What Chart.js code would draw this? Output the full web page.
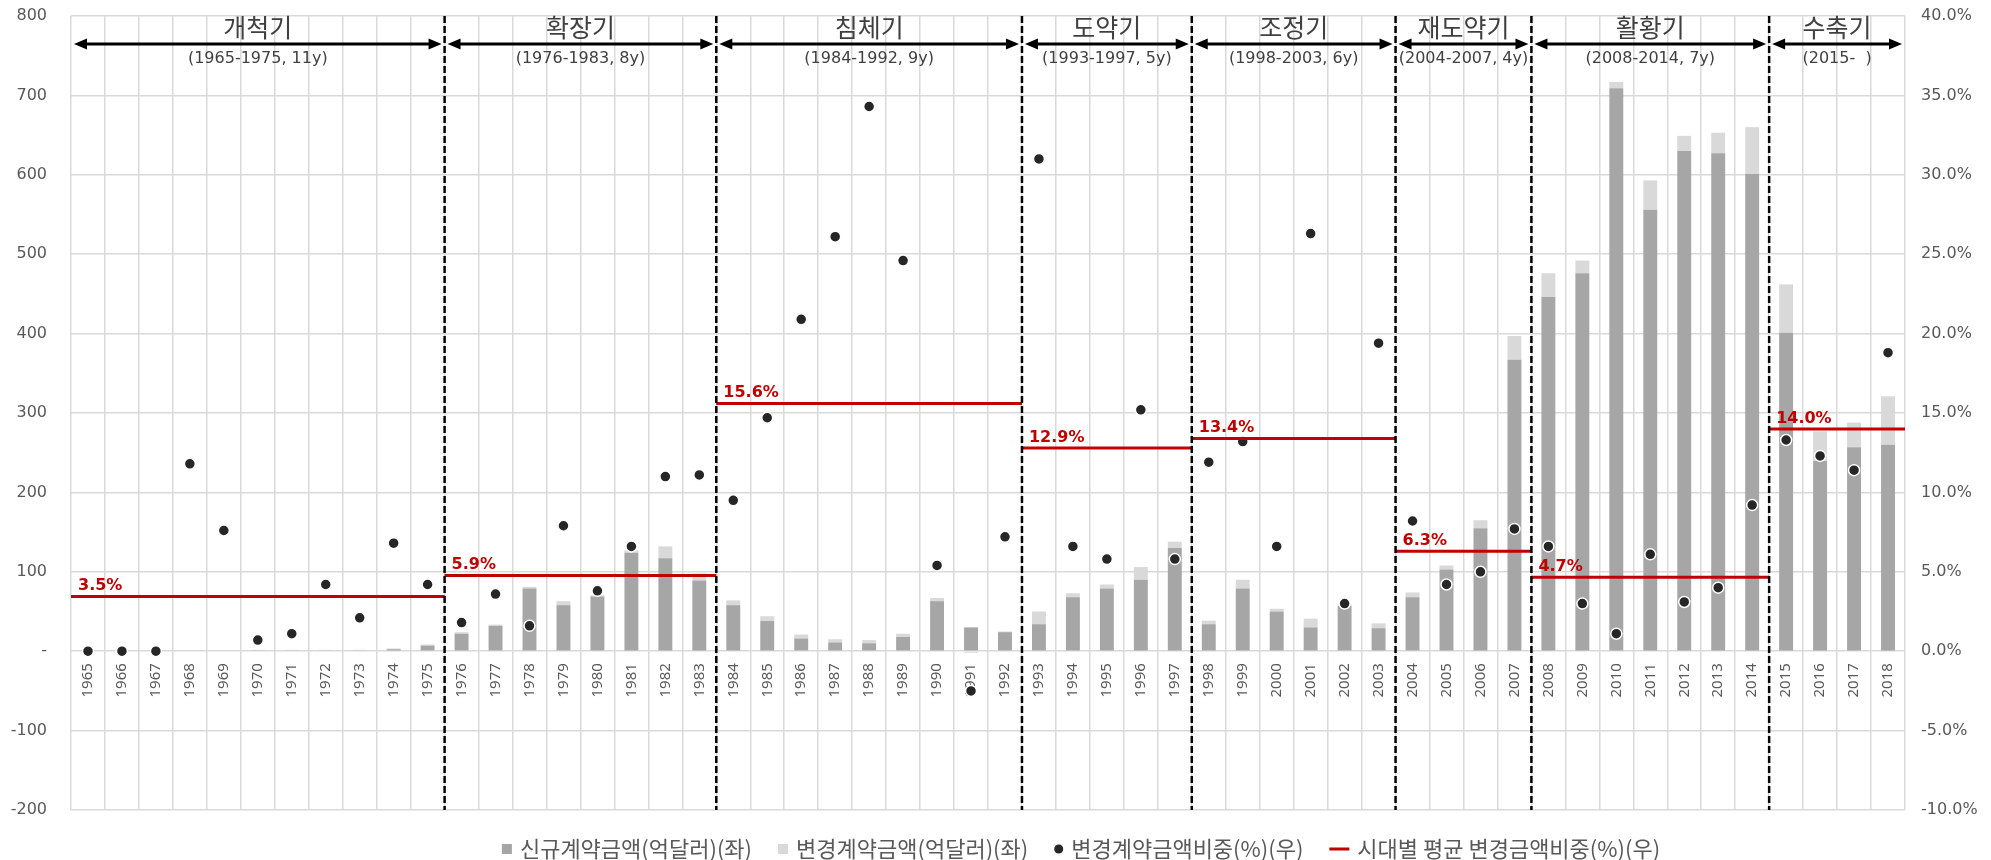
<!DOCTYPE html>
<html>
<head>
<meta charset="utf-8">
<script src="https://cdn.jsdelivr.net/npm/chart.js@4"></script>
<style>
  body { margin: 0; background: #fff; }
  canvas { display: block; }
</style>
</head>
<body>
<canvas id="chart" width="1991" height="860"></canvas>
<script>
const years = [1965,1966,1967,1968,1969,1970,1971,1972,1973,1974,1975,
  1976,1977,1978,1979,1980,1981,1982,1983,
  1984,1985,1986,1987,1988,1989,1990,1991,1992,
  1993,1994,1995,1996,1997,
  1998,1999,2000,2001,2002,2003,
  2004,2005,2006,2007,
  2008,2009,2010,2011,2012,2013,2014,
  2015,2016,2017,2018];

// 신규계약금액 (억달러)
const newAmt = [0,0,0,0,0,1,1,1,1,2.5,7,
  22,32,79,58,69,124,117,89,
  58,38,16,11,10,18,63,30,24,
  34,68,79,90,130,
  34,79,50,30,57,29,
  68,103,155,367,
  446,476,709,556,630,627,601,
  401,240,257,260];

// 변경계약금액 (억달러)
const changeAmt = [0,0,0,0,0,0.8,0.8,0.8,0.8,1,1.5,
  2,1.5,2,5,1.5,3,15,9,
  6,6,5,4,4,4,4,-2,0.8,
  16,5,5,16,8,
  4.5,11,3.5,11,2,6,
  6,5,10,30,
  30,16,8,37,19,26,59,
  61,37,31,61];

// 변경계약금액비중 (%)
const changeRatio = [0,0,0,11.8,7.6,0.7,1.1,4.2,2.1,6.8,4.2,
  1.8,3.6,1.6,7.9,3.8,6.6,11.0,11.1,
  9.5,14.7,20.9,26.1,34.3,24.6,5.4,-2.5,7.2,
  31.0,6.6,5.8,15.2,5.8,
  11.9,13.2,6.6,26.3,3.0,19.4,
  8.2,4.2,5.0,7.7,
  6.6,3.0,1.1,6.1,3.1,4.0,9.2,
  13.3,12.3,11.4,18.8];

const periodNames = ['개척기','확장기','침체기','도약기','조정기','재도약기','활황기','수축기'];
const periodSpans = ['(1965-1975, 11y)','(1976-1983, 8y)','(1984-1992, 9y)','(1993-1997, 5y)',
  '(1998-2003, 6y)','(2004-2007, 4y)','(2008-2014, 7y)','(2015-  )'];
const periodStart = [1965,1976,1984,1993,1998,2004,2008,2015];
const periodEnd = [1975,1983,1992,1997,2003,2007,2014,2018];
// 시대별 평균 변경금액비중 (%) - line level as drawn, and its printed label
const periodAvg = [3.45,4.77,15.6,12.8,13.4,6.3,4.65,14.0];
const periodAvgLabels = ['3.5%','5.9%','15.6%','12.9%','13.4%','6.3%','4.7%','14.0%'];
const avgLineLabel = '시대별 평균 변경금액비중(%)(우)';

const GRID = '#d9d9d9';
const TICK = '#595959';

const periodPlugin = {
  id: 'periods',
  afterDatasetsDraw(chart) {
    const {ctx, chartArea, scales} = chart;
    const x = scales.x, y1 = scales.y1;
    const half = (x.getPixelForValue(1) - x.getPixelForValue(0)) / 2;
    const left = i => x.getPixelForValue(years.indexOf(periodStart[i])) - half;
    const right = i => x.getPixelForValue(years.indexOf(periodEnd[i])) + half;
    ctx.save();

    // average lines
    for (let i = 0; i < periodNames.length; i++) {
      const yy = y1.getPixelForValue(periodAvg[i]);
      ctx.strokeStyle = '#c00000';
      ctx.lineWidth = 3;
      ctx.beginPath();
      ctx.moveTo(left(i), yy);
      ctx.lineTo(right(i), yy);
      ctx.stroke();
      ctx.fillStyle = '#c00000';
      ctx.font = 'bold 16px "DejaVu Sans"';
      ctx.textAlign = 'left';
      ctx.textBaseline = 'alphabetic';
      ctx.fillText(periodAvgLabels[i], left(i) + 7, yy - 6);
    }

    // dashed separators
    ctx.setLineDash([7, 3]);
    ctx.strokeStyle = '#000';
    ctx.lineWidth = 2.5;
    for (let i = 1; i < periodNames.length; i++) {
      const xx = left(i);
      ctx.beginPath();
      ctx.moveTo(xx, chartArea.top);
      ctx.lineTo(xx, chartArea.bottom);
      ctx.stroke();
    }
    ctx.setLineDash([]);

    // arrows and period names
    const ay = 44;
    for (let i = 0; i < periodNames.length; i++) {
      const a = left(i) + 3, b = right(i) - 3;
      ctx.strokeStyle = '#000';
      ctx.fillStyle = '#000';
      ctx.lineWidth = 3;
      ctx.beginPath();
      ctx.moveTo(a + 8, ay);
      ctx.lineTo(b - 8, ay);
      ctx.stroke();
      ctx.beginPath();
      ctx.moveTo(a, ay); ctx.lineTo(a + 13, ay - 5.5); ctx.lineTo(a + 13, ay + 5.5);
      ctx.closePath(); ctx.fill();
      ctx.beginPath();
      ctx.moveTo(b, ay); ctx.lineTo(b - 13, ay - 5.5); ctx.lineTo(b - 13, ay + 5.5);
      ctx.closePath(); ctx.fill();

      const cx = (left(i) + right(i)) / 2;
      ctx.fillStyle = '#404040';
      ctx.textAlign = 'center';
      ctx.textBaseline = 'middle';
      ctx.font = '25px "Noto Sans CJK KR"';
      ctx.fillText(periodNames[i], cx, 27);
      ctx.font = '16px "DejaVu Sans"';
      ctx.fillText(periodSpans[i], cx, 59);
    }
    ctx.restore();
  }
};

const legendPlugin = {
  id: 'bottomLegend',
  afterDraw(chart) {
    const {ctx} = chart;
    const ds = chart.data.datasets;
    const items = [
      {text: ds[1].label, kind: 'box', color: ds[1].backgroundColor},
      {text: ds[2].label, kind: 'box', color: ds[2].backgroundColor},
      {text: ds[0].label, kind: 'dot', color: ds[0].pointBackgroundColor},
      {text: avgLineLabel, kind: 'line', color: '#c00000'}
    ];
    ctx.save();
    ctx.font = '22px "Noto Sans CJK KR"';
    ctx.textBaseline = 'middle';
    ctx.textAlign = 'left';
    const markW = {box: 10, dot: 9, line: 20};
    const gap = 8, itemGap = 26;
    let total = 0;
    items.forEach(it => {
      it.w = ctx.measureText(it.text).width;
      total += markW[it.kind] + gap + it.w;
    });
    total += itemGap * (items.length - 1);
    let xx = 1081 - total / 2;
    const yy = 849;
    items.forEach(it => {
      ctx.fillStyle = it.color;
      if (it.kind === 'box') {
        ctx.fillRect(xx, yy - 5, 10, 10);
      } else if (it.kind === 'dot') {
        ctx.beginPath();
        ctx.arc(xx + 4.5, yy, 4.5, 0, Math.PI * 2);
        ctx.fill();
      } else {
        ctx.fillRect(xx, yy - 1.5, 20, 3);
      }
      xx += markW[it.kind] + gap;
      ctx.fillStyle = TICK;
      ctx.fillText(it.text, xx, yy);
      xx += it.w + itemGap;
    });
    ctx.restore();
  }
};

const ctx = document.getElementById('chart').getContext('2d');
new Chart(ctx, {
  data: {
    labels: years.map(String),
    datasets: [
      {
        type: 'line',
        label: '변경계약금액비중(%)(우)',
        data: changeRatio,
        yAxisID: 'y1',
        showLine: false,
        pointRadius: 5.5,
        pointHoverRadius: 5.5,
        pointBackgroundColor: '#262626',
        pointBorderColor: '#ffffff',
        pointBorderWidth: 1.5,
        order: 0
      },
      {
        type: 'bar',
        label: '신규계약금액(억달러)(좌)',
        data: newAmt,
        backgroundColor: '#a6a6a6',
        yAxisID: 'y',
        stack: 'amt',
        categoryPercentage: 1,
        barPercentage: 0.41,
        order: 1
      },
      {
        type: 'bar',
        label: '변경계약금액(억달러)(좌)',
        data: changeAmt,
        backgroundColor: '#d9d9d9',
        yAxisID: 'y',
        stack: 'amt',
        categoryPercentage: 1,
        barPercentage: 0.41,
        order: 1
      }
    ]
  },
  options: {
    responsive: false,
    animation: false,
    layout: { padding: { top: 16, bottom: 50, left: 0, right: 0 } },
    plugins: {
      legend: { display: false },
      tooltip: { enabled: false }
    },
    scales: {
      x: {
        stacked: true,
        position: { y: 0 },
        grid: { offset: true, color: GRID, lineWidth: 1.5, drawTicks: false },
        border: { display: false },
        ticks: {
          autoSkip: false, minRotation: 90, maxRotation: 90, padding: 12,
          color: TICK, font: { family: 'Noto Sans', size: 15 }
        }
      },
      y: {
        stacked: true,
        position: 'left',
        min: -200, max: 800,
        grid: { color: GRID, lineWidth: 1.5, drawTicks: false },
        border: { display: false },
        ticks: {
          stepSize: 100, padding: 24, color: TICK,
          font: { family: 'DejaVu Sans', size: 16 },
          callback: v => v === 0 ? '-' : v
        },
        afterFit(s) { s.width = 71; s.paddingTop = 0; s.paddingBottom = 0; }
      },
      y1: {
        position: 'right',
        min: -10, max: 40,
        grid: { display: false, drawTicks: false },
        border: { display: false },
        ticks: {
          stepSize: 5, padding: 16, color: TICK,
          font: { family: 'DejaVu Sans', size: 16 },
          callback: v => v.toFixed(1) + '%'
        },
        afterFit(s) { s.width = 86; s.paddingTop = 0; s.paddingBottom = 0; }
      }
    }
  },
  plugins: [periodPlugin, legendPlugin]
});
</script>
</body>
</html>
